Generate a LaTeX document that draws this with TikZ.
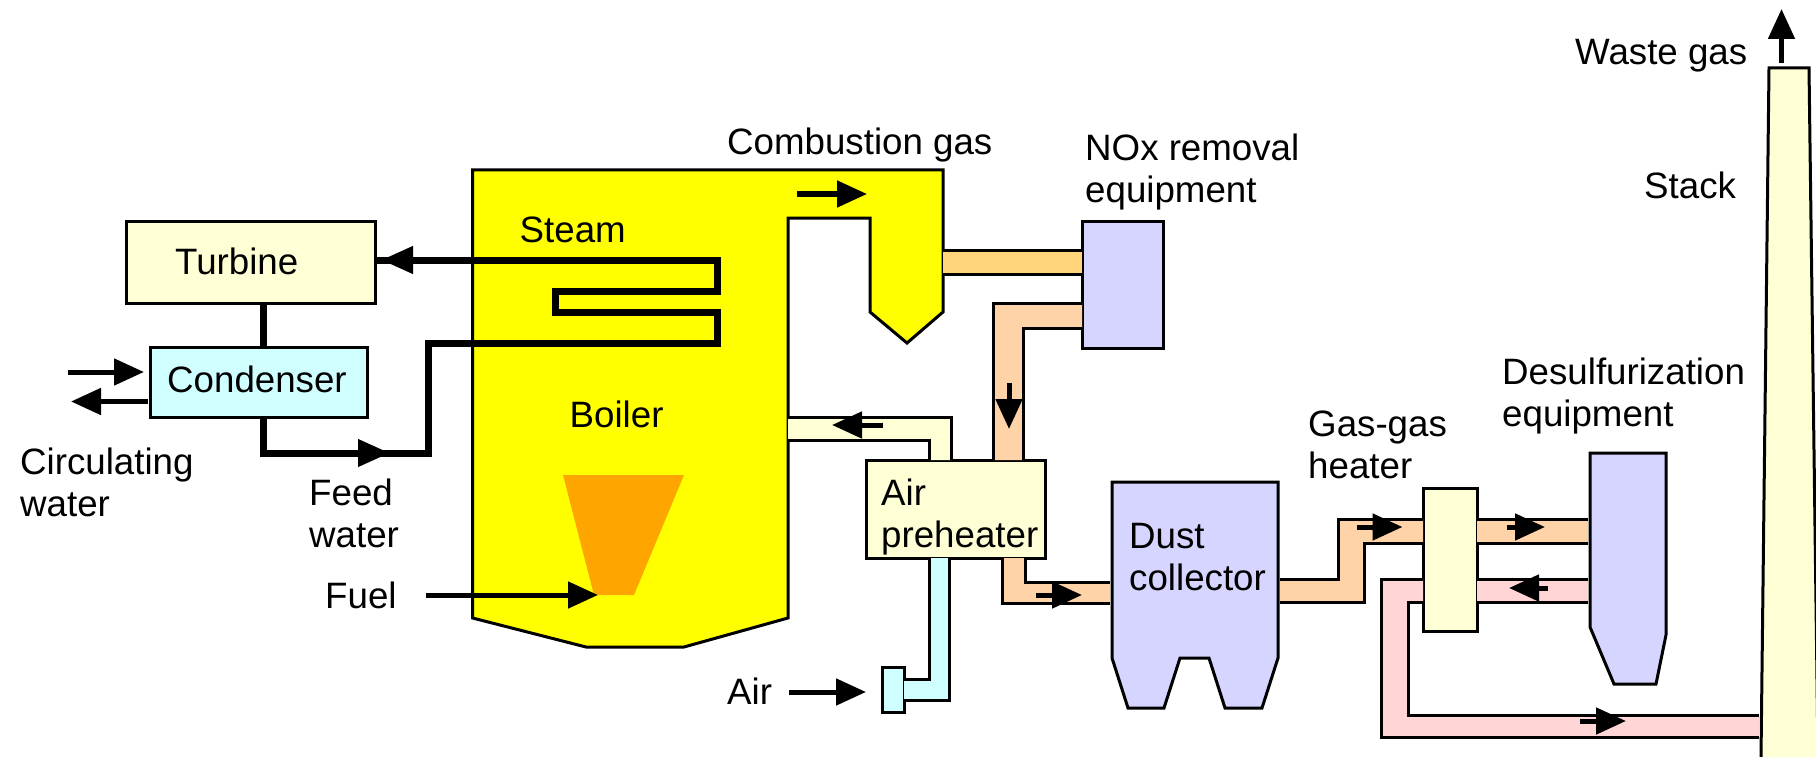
\documentclass[tikz,border=0pt]{standalone}
\usepackage{xcolor}
\usepackage{fontspec}
\setmainfont{Liberation Sans}
\usetikzlibrary{positioning,calc,arrows.meta}

\definecolor{boileryellow}{HTML}{FFFF00}
\definecolor{paleyellow}{HTML}{FFFFD5}
\definecolor{paleblue}{HTML}{D0FFFF}
\definecolor{lavender}{HTML}{D5D5FF}
\definecolor{flame}{HTML}{FFA500}
\definecolor{peach}{HTML}{FFD3A8}
\definecolor{gold}{HTML}{FFD47A}
\definecolor{pink}{HTML}{FFD5D5}

\begin{document}
\begin{tikzpicture}[
  x=1pt, y=-1pt,
  label/.style={anchor=base west, inner sep=0pt, align=left, font=\fontsize{36.7}{42}\selectfont},
  unit/.style={rectangle, draw, line width=3pt, inner sep=0pt, outer sep=0pt, anchor=north west},
  vessel/.style={draw, line width=3pt, line join=miter},
  pipewall/.style={draw, line width=3pt},
  water/.style={draw, line width=7pt, line join=miter},
  flow/.style={line width=5pt, -{Triangle[length=30pt,width=26pt]}},
  steamflow/.style={line width=7pt, -{Triangle[length=32pt,width=26pt]}}
]
  \useasboundingbox (0,0) rectangle (1816,757);

  % Boiler and flame
  \draw[vessel, fill=boileryellow] (472.5,170) -- (943,170) -- (943,312) -- (907,343) -- (870,312) -- (870,218) -- (788,218) -- (788,618) -- (684,647) -- (586,647) -- (472.5,618) -- cycle;
  \fill[flame] (563,475) -- (684,475) -- (634,595) -- (594,595) -- cycle;
  \coordinate (boilertop) at (788,417);
  \coordinate (boilerflue) at (943,250);
  \coordinate (flametip) at (598,595);

  % Units
  \node[unit, fill=paleyellow, minimum width=248.5pt, minimum height=82pt] (turbine) at (126.5,221) {};
  \node[unit, fill=paleblue, minimum width=216.5pt, minimum height=70pt] (condenser) at (150.5,347) {};
  \node[unit, fill=lavender, minimum width=81pt, minimum height=127pt] (nox) at (1082,221) {};
  \node[unit, fill=paleyellow, minimum width=179pt, minimum height=98pt] (preheater) at (866,460) {};
  \node[unit, fill=paleyellow, minimum width=54pt, minimum height=143pt] (ggh) at (1423,488) {};
  \node[unit, fill=paleblue, minimum width=22pt, minimum height=45pt] (blower) at (882,667) {};
  \draw[vessel, fill=lavender] (1112,482) -- (1278,482) -- (1278,658) -- (1262,708) -- (1225,708) -- (1209,658) -- (1180,658) -- (1164,708) -- (1128,708) -- (1112,658) -- cycle;
  \draw[vessel, fill=lavender] (1590,453) -- (1666,453) -- (1666,635) -- (1656,684) -- (1614,684) -- (1590,627) -- cycle;
  \draw[vessel, fill=paleyellow] (1761,757) -- (1769,68) -- (1809,68) -- (1818,757);
  \coordinate (dustin) at (1110,595);
  \coordinate (dustout) at (1280,590);
  \coordinate (desulfin) at (1588,531);
  \coordinate (desulfout) at (1588,590);
  \coordinate (stackin) at (1759,726);

  % Flue gas to NOx removal
  \fill[gold] (boilerflue |- 0,250) rectangle (nox.west |- 0,274);
  \draw[pipewall] (boilerflue |- 0,250) -- (nox.west |- 0,250);
  \draw[pipewall] (boilerflue |- 0,274) -- (nox.west |- 0,274);

  % NOx removal to air preheater
  \fill[peach] (nox.west |- 0,303) -- (993,303) -- (993,460) -- (1023,460) -- (1023,328) -- (nox.west |- 0,328) -- cycle;
  \draw[pipewall] (nox.west |- 0,303) -- (993,303) -- (993,0 |- preheater.north);
  \draw[pipewall] (nox.west |- 0,328) -- (1023,328) -- (1023,0 |- preheater.north);

  % Air preheater to boiler
  \fill[paleyellow] (boilertop) -- (951,417) -- (951,460) -- (929,460) -- (929,440) -- (boilertop |- 0,440) -- cycle;
  \draw[pipewall] (boilertop) -- (951,417) -- (951,0 |- preheater.north);
  \draw[pipewall] (boilertop |- 0,440) -- (929,440) -- (929,0 |- preheater.north);

  % Blower to air preheater
  \fill[paleblue] (blower.east |- 0,679) -- (929,679) -- (929,558) -- (949,558) -- (949,700) -- (blower.east |- 0,700) -- cycle;
  \draw[pipewall] (blower.east |- 0,679) -- (929,679) -- (929,0 |- preheater.south);
  \draw[pipewall] (blower.east |- 0,700) -- (949,700) -- (949,0 |- preheater.south);

  % Air preheater to dust collector
  \fill[peach] (1002,558) -- (1002,603) -- (dustin |- 0,603) -- (dustin |- 0,582) -- (1025,582) -- (1025,558) -- cycle;
  \draw[pipewall] (1002,0 |- preheater.south) -- (1002,603) -- (dustin |- 0,603);
  \draw[pipewall] (1025,0 |- preheater.south) -- (1025,582) -- (dustin |- 0,582);

  % Dust collector to gas-gas heater
  \fill[peach] (dustout |- 0,579) -- (1338,579) -- (1338,519) -- (ggh.west |- 0,519) -- (ggh.west |- 0,543) -- (1364,543) -- (1364,602) -- (dustout |- 0,602) -- cycle;
  \draw[pipewall] (dustout |- 0,579) -- (1338,579) -- (1338,519) -- (ggh.west |- 0,519);
  \draw[pipewall] (dustout |- 0,602) -- (1364,602) -- (1364,543) -- (ggh.west |- 0,543);

  % Gas-gas heater to desulfurization
  \fill[peach] (ggh.east |- 0,519) rectangle (desulfin |- 0,543);
  \draw[pipewall] (ggh.east |- 0,519) -- (desulfin |- 0,519);
  \draw[pipewall] (ggh.east |- 0,543) -- (desulfin |- 0,543);

  % Desulfurization back to gas-gas heater
  \fill[pink] (ggh.east |- 0,579) rectangle (desulfout |- 0,602);
  \draw[pipewall] (ggh.east |- 0,579) -- (desulfout |- 0,579);
  \draw[pipewall] (ggh.east |- 0,602) -- (desulfout |- 0,602);

  % Gas-gas heater to stack
  \fill[pink] (ggh.west |- 0,579) -- (1381,579) -- (1381,737) -- (stackin |- 0,737) -- (stackin |- 0,715) -- (1408,715) -- (1408,602) -- (ggh.west |- 0,602) -- cycle;
  \draw[pipewall] (ggh.west |- 0,579) -- (1381,579) -- (1381,737) -- (stackin |- 0,737);
  \draw[pipewall] (ggh.west |- 0,602) -- (1408,602) -- (1408,715) -- (stackin |- 0,715);

  % Steam and water lines
  \coordinate (shaft) at (263,400);
  \draw[water] (shaft |- turbine.south) -- (shaft |- condenser.north);
  \draw[water] (turbine.east |- 0,260) -- (717,260) -- (717,291) -- (555,291) -- (555,312) -- (717,312) -- (717,343) -- (428.5,343) -- (428.5,453) -- (shaft |- 0,453) -- (shaft |- condenser.south);
  \coordinate (steamtail) at (425,260);
  \coordinate (steamtip) at (381,260);
  \draw[steamflow] (steamtail) -- (steamtip);
  \coordinate (feedtail) at (345,453);
  \coordinate (feedtip) at (390,453);
  \draw[steamflow] (feedtail) -- (feedtip);

  % Circulating water
  \coordinate (cwintail) at (68,372);
  \coordinate (cwintip) at (144,372);
  \coordinate (cwouttip) at (71,401.5);
  \draw[flow] (cwintail) -- (cwintip);
  \draw[flow, shorten <=3pt] (condenser.west |- cwouttip) -- (cwouttip);

  % Gas and air arrows
  \coordinate (fueltail) at (426,595);
  \draw[flow] (fueltail) -- (flametip);
  \coordinate (gastail) at (797,194);
  \coordinate (gastip) at (867,194);
  \draw[flow] (gastail) -- (gastip);
  \coordinate (noxtail) at (1009,383);
  \coordinate (noxtip) at (1009,429);
  \draw[flow] (noxtail) -- (noxtip);
  \coordinate (hotairtail) at (883,425);
  \coordinate (hotairtip) at (832,425);
  \draw[flow] (hotairtail) -- (hotairtip);
  \coordinate (airtail) at (789,692);
  \coordinate (airtip) at (866,692);
  \draw[flow] (airtail) -- (airtip);
  \coordinate (dusttail) at (1036,595);
  \coordinate (dusttip) at (1082,595);
  \draw[flow] (dusttail) -- (dusttip);
  \coordinate (ggintail) at (1357,527);
  \coordinate (ggintip) at (1402.5,527);
  \draw[flow] (ggintail) -- (ggintip);
  \coordinate (desulftail) at (1506.5,527);
  \coordinate (desulftip) at (1545,527);
  \draw[flow] (desulftail) -- (desulftip);
  \coordinate (cleantail) at (1548,588);
  \coordinate (cleantip) at (1509,588);
  \draw[flow] (cleantail) -- (cleantip);
  \coordinate (stacktail) at (1580,721);
  \coordinate (stacktip) at (1626,721);
  \draw[flow] (stacktail) -- (stacktip);
  \coordinate (wastetail) at (1781.5,63);
  \coordinate (wastetip) at (1781.5,9);
  \draw[flow] (wastetail) -- (wastetip);

  % Labels
  \node[label] (turbinelabel) at (175,274) {Turbine};
  \node[label] (condenserlabel) at (167,392) {Condenser};
  \node[label] (steamlabel) at (519.5,242) {Steam};
  \node[label] (boilerlabel) at (569.5,427) {Boiler};
  \node[label] (circlabel) at (20,516) {Circulating\\water};
  \node[label] (feedlabel) at (309,547) {Feed\\water};
  \node[label] (fuellabel) at (325,608) {Fuel};
  \node[label] (airlabel) at (727,704) {Air};
  \node[label] (combustionlabel) at (727,155) {Combustion gas};
  \node[label] (noxlabel) at (1085,202) {NOx removal\\equipment};
  \node[label] (preheaterlabel) at (881,547) {Air\\preheater};
  \node[label] (dustlabel) at (1129,590) {Dust\\collector};
  \node[label] (ggheaterlabel) at (1308,478) {Gas-gas\\heater};
  \node[label] (desulflabel) at (1502,426) {Desulfurization\\equipment};
  \node[label] (wastelabel) at (1575,65) {Waste gas};
  \node[label] (stacklabel) at (1644,198) {Stack};
\end{tikzpicture}
\end{document}
